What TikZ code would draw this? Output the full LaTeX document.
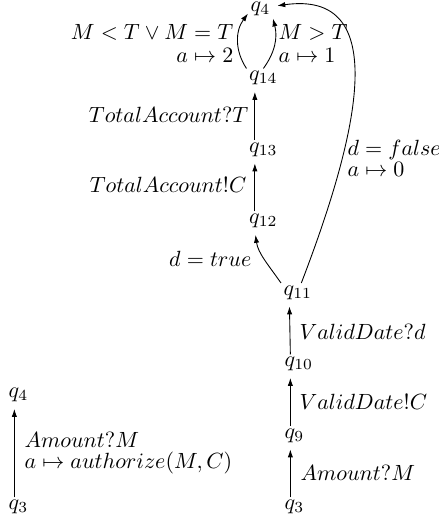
\documentclass[tikz,border=0pt]{standalone}
\usepackage{amsmath}
\usepackage{amssymb}
\usetikzlibrary{arrows.meta}

\begin{document}
\begin{tikzpicture}[x=0.4545pt, y=-0.4545pt, >={Latex[length=3.6pt,width=2.4pt]},
  loc/.style={inner sep=1pt, anchor=west},
  lbl/.style={inner sep=1pt}]
	\useasboundingbox (0,0) rectangle (438,520);
	
	% left part
	\node[loc] (q3a) at (6,507) {$q_3$};
	\node[loc] (q4a) at (6,395) {$q_4$};
	\draw[->, thin, shorten >=2pt] ([xshift=3.8pt]q3a.north west) -- ([xshift=3.8pt]q4a.south west);
	\node[lbl, anchor=west, align=left] (amt) at (22,453) {$Amount?M$\\[-2.5pt]$a\mapsto authorize(M,C)$};
	
	% right part
	\node[loc] (q3) at (282,507) {$q_3$};
	\node[loc] (q9) at (282,435.5) {$q_9$};
	\node[loc] (q10) at (282,364) {$q_{10}$};
	\node[loc] (q11) at (281,292.5) {$q_{11}$};
	\node[loc] (q12) at (246.5,221) {$q_{12}$};
	\node[loc] (q13) at (246.5,149.5) {$q_{13}$};
	\node[loc] (q14) at (246.5,78) {$q_{14}$};
	\node[loc] (q4) at (248,9) {$q_4$};
	
	\draw[->, thin, shorten >=2pt] ([xshift=3.8pt]q3.north west) -- ([xshift=3.8pt]q9.south west);
	\node[lbl, anchor=west] (amtr) at (298,473) {$Amount?M$};
	\draw[->, thin, shorten >=2pt] ([xshift=3.8pt]q9.north west) -- ([xshift=3.8pt]q10.south west);
	\node[lbl, anchor=west] (vdc) at (297,402) {$ValidDate!C$};
	\draw[->, thin, shorten >=2pt] ([xshift=3.8pt]q10.north west) -- ([xshift=3.8pt]q11.south west);
	\node[lbl, anchor=west] (vdd) at (297,332) {$ValidDate?d$};
	
	\draw[->, thin, shorten >=2pt] (q11.north west) to[out=125, in=-82] ([xshift=3.8pt]q12.south west);
	\node[lbl, anchor=east] (dt) at (254,259) {$d=true$};
	\draw[->, thin, shorten >=2pt] (q11.70) to[out=69, in=8, out looseness=1.5, in looseness=1.1] (q4.12);
	\node[lbl, anchor=west, align=left] (df) at (345,158) {$d=false$\\[-2.5pt]$a\mapsto 0$};
	
	\draw[->, thin, shorten >=2pt] ([xshift=3.8pt]q12.north west) -- ([xshift=3.8pt]q13.south west);
	\node[lbl, anchor=east] (tac) at (249,185) {$TotalAccount!C$};
	\draw[->, thin, shorten >=2pt] ([xshift=3.8pt]q13.north west) -- ([xshift=3.8pt]q14.south west);
	\node[lbl, anchor=east] (tat) at (251,115) {$TotalAccount?T$};
	
	\draw[->, thin] (q14.north west) to[bend left=35] (q4.200);
	\node[lbl, anchor=east, align=right] (lt) at (236,43.5) {$M<T\vee M=T$\\[-1.5pt]$a\mapsto 2$};
	\draw[->, thin] (q14.north) to[bend right=25] (q4.south east);
	\node[lbl, anchor=west, align=left] (gt) at (276,43.5) {$M>T$\\[-1.5pt]$a\mapsto 1$};
	
\end{tikzpicture}
\end{document}
